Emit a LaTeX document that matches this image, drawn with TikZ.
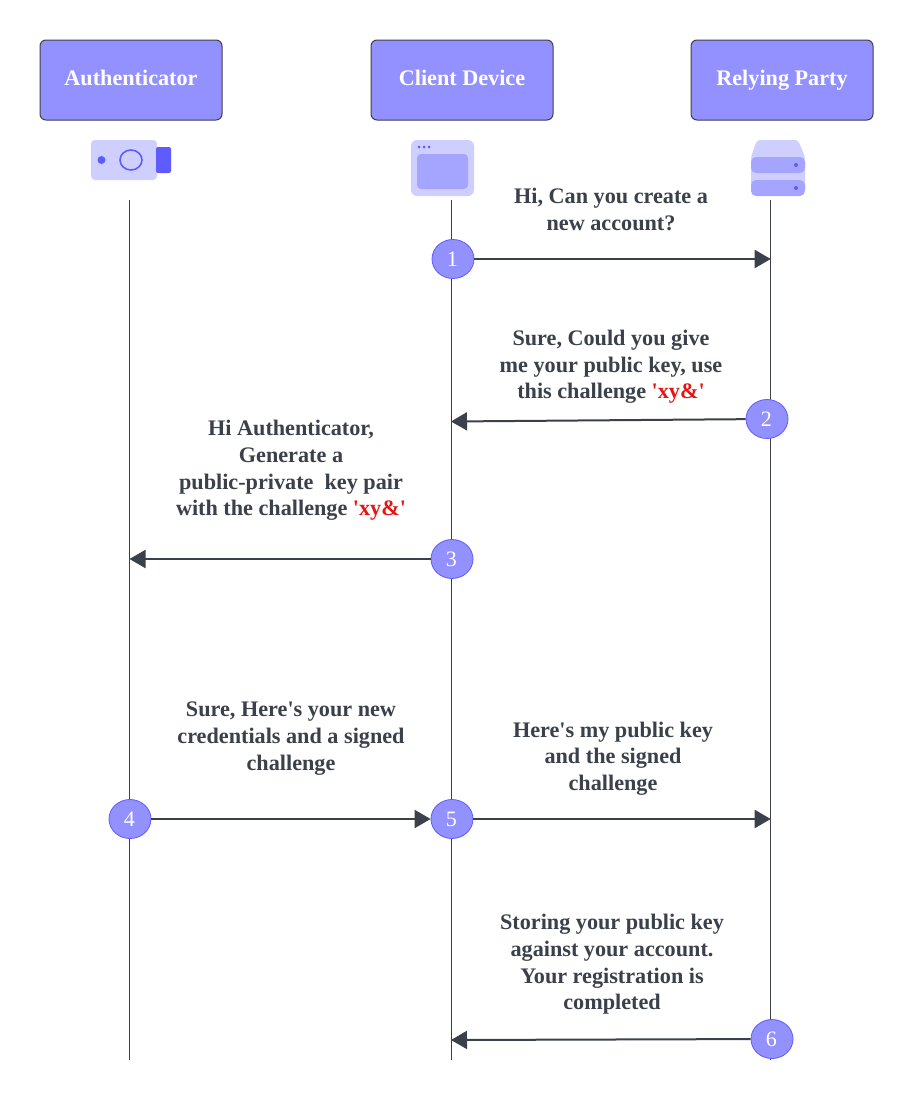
\documentclass[tikz,border=0pt]{standalone}
\usepackage{fontspec}
\setmainfont{Liberation Serif}[Ligatures=TeXOff]
\usetikzlibrary{shapes.geometric,arrows.meta}
\definecolor{hdr}{HTML}{9391FF}
\definecolor{ink}{HTML}{3A414A}
\definecolor{lite}{HTML}{CFCFFF}
\definecolor{midv}{HTML}{A5A4FF}
\definecolor{deep}{HTML}{5E5CFF}
\definecolor{redt}{HTML}{E81313}
\tikzset{
  x=1pt,y=-1pt,
  header/.style={draw=ink,line width=1pt,fill=hdr,rounded corners=6pt,minimum width=182pt,minimum height=80pt,inner sep=0pt,text=white,text height=15pt,text depth=5pt,font=\fontsize{22.2}{26}\selectfont\bfseries},
  badge/.style={ellipse,draw=deep,line width=0.8pt,fill=hdr,inner sep=0pt,minimum width=42pt,minimum height=39pt,text=white,font=\fontsize{22}{26}\selectfont,execute at end node=\kern1.5pt},
  life/.style={draw=ink,line width=0.9pt},
  msg/.style={draw=ink,line width=2pt,-{Triangle[length=16pt,width=18pt]}},
  say/.style={align=center,text=ink,inner sep=0pt,font=\fontsize{22.2}{26.6}\selectfont\bfseries}
}
\newcommand{\red}[1]{\textcolor{redt}{#1}}
\begin{document}
\begin{tikzpicture}
\useasboundingbox (0,0) rectangle (913,1100);
\fill[white] (0,0) rectangle (913,1100);
% headers
\node[header] (hA) at (131,80) {Authenticator};
\node[header] (hC) at (462,80) {Client Device};
\node[header] (hR) at (782,80) {Relying Party};
% lifelines
\coordinate (aT) at (129.5,200); \coordinate (aB) at (129.5,1060);
\coordinate (cT) at (451,200);   \coordinate (cB) at (451,1060);
\coordinate (rT) at (770.7,200); \coordinate (rB) at (770.7,1060);
\draw[life] (aT) -- (aB);
\draw[life] (cT) -- (cB);
\draw[life] (rT) -- (rB);
% icons: key
\fill[lite,rounded corners=4pt] (91,140) rectangle (157,180);
\fill[deep,rounded corners=2pt] (156,147) rectangle (171,173);
\fill[deep] (101.5,160) circle (4pt);
\draw[deep,line width=1.6pt] (131,160) ellipse (11pt and 10pt);
% icons: browser
\fill[lite,rounded corners=6pt] (411,140) rectangle (474,196);
\fill[midv,rounded corners=4pt] (417,154) rectangle (468,189);
\fill[deep] (419,147) circle (1.5pt) (424,147) circle (1.5pt) (429,147) circle (1.5pt);
% icons: server
\fill[lite,rounded corners=3pt] (757,140) -- (773,140) -- (798,140) -- (805,157) -- (805,190) -- (751,190) -- (751,157) -- cycle;
\fill[midv,rounded corners=5pt] (751,157) rectangle (805,173);
\fill[midv,rounded corners=5pt] (751,180) rectangle (805,196);
\fill[deep] (796,165) circle (2pt) (796,188) circle (2pt);
% badges
\node[badge] (n1) at (453,259) {1};
\node[badge] (n2) at (767,419) {2};
\node[badge] (n3) at (452,559) {3};
\node[badge] (n4) at (130,819) {4};
\node[badge] (n5) at (452,819) {5};
\node[badge] (n6) at (772,1039) {6};
% arrow ends
\coordinate (e1) at (770.7,259);
\coordinate (e2) at (451,421.5);
\coordinate (e3) at (129.5,559);
\coordinate (e5) at (770.7,819);
\coordinate (e6) at (451,1040);
\draw[msg] (n1) -- (e1);
\draw[msg] (n2) -- (e2);
\draw[msg] (n3) -- (e3);
\draw[msg] (n4) -- (n5);
\draw[msg] (n5) -- (e5);
\draw[msg] (n6) -- (e6);
% labels
\node[say] (t1) at (611,209.2) {Hi, Can you create a\\new account?};
\node[say] (t2) at (611,367) {Sure, Could you give\\me your public key, use\\this challenge \red{'xy\&'}};
\node[say] (t3) at (291,470.5) {Hi Authenticator,\\Generate a\\public-private\ \ key pair\\with the challenge \red{'xy\&'}};
\node[say] (t4) at (291,738.5) {Sure, Here's your new\\credentials and a signed\\challenge};
\node[say] (t5) at (613,758.5) {Here's my public key\\and the signed\\challenge};
\node[say] (t6) at (612,964.5) {Storing your public key\\against your account.\\Your registration is\\completed};
\end{tikzpicture}
\end{document}
